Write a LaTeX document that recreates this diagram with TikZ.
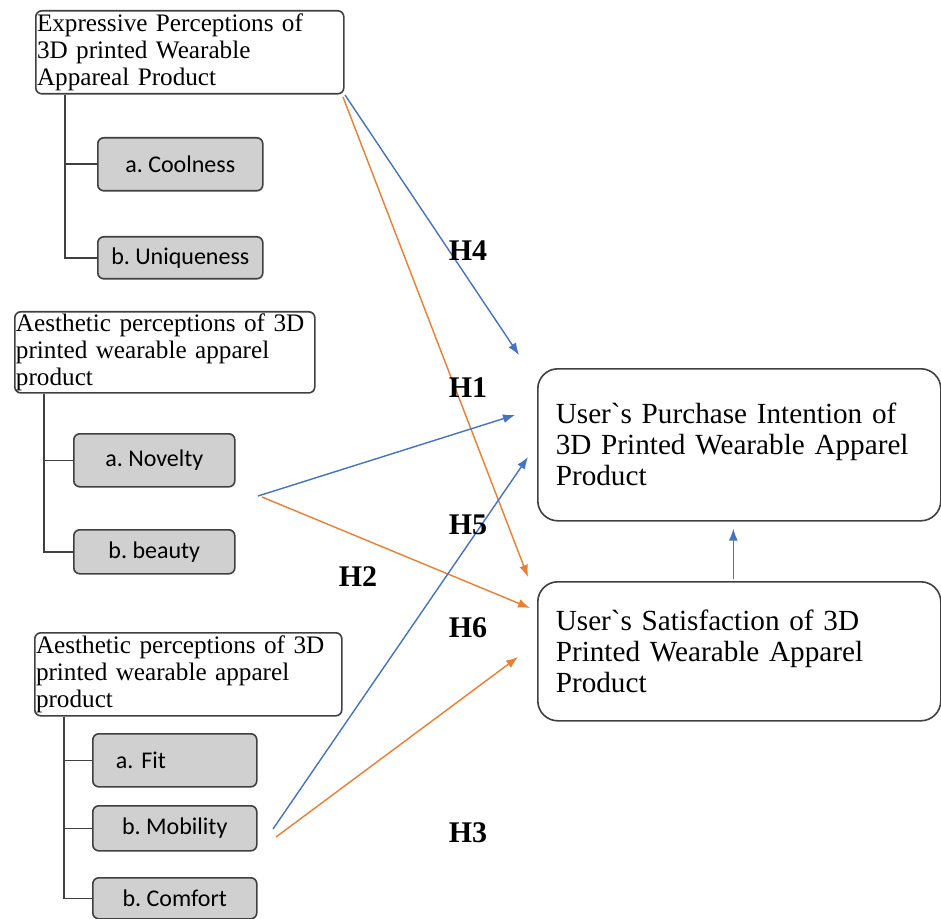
\documentclass[tikz,border=0pt]{standalone}
\usepackage{fontspec}
\setmainfont{Liberation Serif}
\newfontfamily\calibri{Carlito}
\usepackage{tikz}
\usetikzlibrary{arrows.meta}
\definecolor{hblue}{HTML}{4472C4}
\definecolor{horange}{HTML}{ED7D31}
\definecolor{boxline}{HTML}{404040}
\definecolor{boxfill}{HTML}{D0D0D0}
\tikzset{>={Latex[length=6pt,width=4.5pt]}}
\tikzstyle{concept}=[rectangle,rounded corners=3pt,draw=boxline,line width=0.8pt,
  fill=white,anchor=north west,align=left,inner xsep=0.6pt,inner ysep=1pt,
  font=\fontsize{12.6}{13.5}\selectfont]
\tikzstyle{item}=[rectangle,rounded corners=3pt,draw=boxline,line width=0.8pt,
  fill=boxfill,anchor=north west,font=\calibri\fontsize{12}{14}\selectfont]
\tikzstyle{outcome}=[rectangle,rounded corners=10pt,draw=boxline,line width=0.8pt,
  anchor=north west,align=left,inner xsep=9pt,text width=183.5pt,
  font=\fontsize{14.6}{15.5}\selectfont]
\tikzstyle{tree}=[draw=boxline,line width=0.8pt]
\tikzstyle{hyp}=[font=\fontsize{15}{18}\selectfont\bfseries]
\tikzstyle{bluearr}=[->,draw=hblue,fill=hblue,line width=0.7pt]
\tikzstyle{orangearr}=[->,draw=horange,fill=horange,line width=0.7pt]

\begin{document}
\frenchspacing
\begin{tikzpicture}[x=0.5pt,y=-0.5pt]
  \useasboundingbox (0,0) rectangle (941,919);

  % expressive block
  \path (35,10) node (exp) [concept,text width=152.8pt,minimum height=41.5pt]
    {Expressive Perceptions of\\3D printed Wearable\\Appareal Product};
  \path (97,137) node (cool) [item,minimum width=82.5pt,minimum height=26.5pt] {a. Coolness};
  \path (97,236) node (uniq) [item,minimum width=82.5pt,minimum height=21pt] {b. Uniqueness};

  % aesthetic block
  \path (14,311) node (aesa) [concept,text width=148.8pt,minimum height=39.5pt]
    {Aesthetic perceptions of 3D\\printed wearable apparel\\product};
  \path (73,433) node (nov) [item,minimum width=80.5pt,minimum height=26.5pt] {a. Novelty};
  \path (73,529) node (beau) [item,minimum width=80.5pt,minimum height=22pt] {b. beauty};

  % functional block
  \path (34,632) node (aesb) [concept,text width=152.3pt,minimum height=41.5pt]
    {Aesthetic perceptions of 3D\\printed wearable apparel\\product};
  \path (92,733) node (fit) [item,text width=59pt,inner xsep=11.5pt,align=left,
    minimum height=26.5pt] {a. Fit};
  \path (92,805) node (mob) [item,minimum width=82pt,minimum height=22.5pt] {b. Mobility};
  \path (92,877) node (comf) [item,minimum width=82pt,minimum height=20.5pt] {b. Comfort};

  % outcomes
  \path (537,368) node (pi) [outcome,minimum height=76pt]
    {User\textasciigrave s Purchase Intention of\\3D Printed Wearable Apparel\\Product};
  \path (537,581) node (sat) [outcome,minimum height=69.5pt]
    {User\textasciigrave s Satisfaction of 3D\\Printed Wearable Apparel\\Product};

  \draw[tree] ([xshift=15pt]exp.south west) |- (cool.west);
  \draw[tree] ([xshift=15pt]exp.south west) |- (uniq.west);
  \draw[tree] ([xshift=15pt]aesa.south west) |- (nov.west);
  \draw[tree] ([xshift=15pt]aesa.south west) |- (beau.west);
  \draw[tree] ([xshift=15pt]aesb.south west) |- (fit.west);
  \draw[tree] ([xshift=15pt]aesb.south west) |- (mob.west);
  \draw[tree] ([xshift=15pt]aesb.south west) |- (comf.west);

  % free ends of the hypothesis paths
  \coordinate (expb) at (345,95);
  \coordinate (expo) at (343,97);
  \coordinate (novb) at (258,496);
  \coordinate (novo) at (262,497);
  \coordinate (mobb) at (273,829);
  \coordinate (mobo) at (276,837);
  \coordinate (pitop) at (519,355);
  \coordinate (pimid) at (515,415);
  \coordinate (pilow) at (528,457);
  \coordinate (sattop) at (528,577);
  \coordinate (satmid) at (530,608);
  \coordinate (satlow) at (518,657);

  \draw[bluearr] (expb) -- (pitop);
  \draw[orangearr] (expo) -- (sattop);
  \draw[bluearr] (novb) -- (pimid);
  \draw[orangearr] (novo) -- (satmid);
  \draw[bluearr] (mobb) -- (pilow);
  \draw[orangearr] (mobo) -- (satlow);
  \draw[bluearr,shorten <=1pt,shorten >=3.5pt] ([xshift=-3pt]sat.north) -- ([xshift=-3pt]pi.south);

  \node (h4) [hyp] at (468,251) {H4};
  \node (h1) [hyp] at (468,388) {H1};
  \node (h5) [hyp] at (468,525) {H5};
  \node (h2) [hyp] at (358,577) {H2};
  \node (h6) [hyp] at (468,628) {H6};
  \node (h3) [hyp] at (468,833) {H3};
\end{tikzpicture}
\end{document}
